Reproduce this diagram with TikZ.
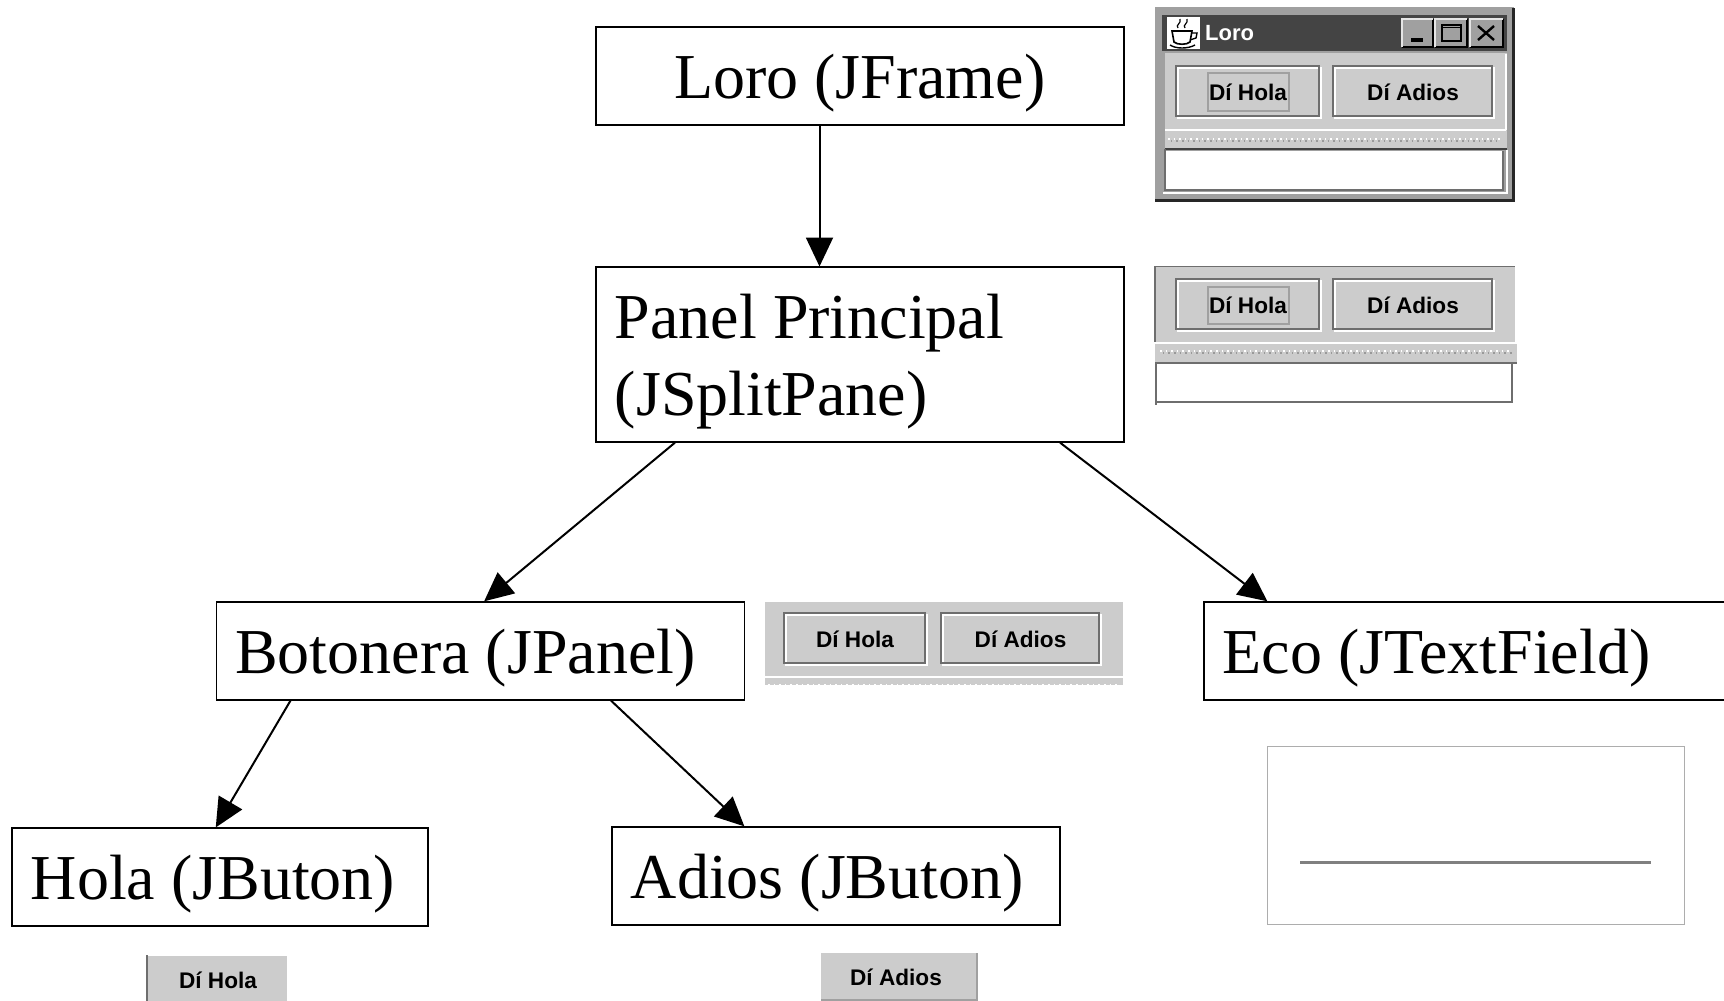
\documentclass[tikz,border=0pt]{standalone}
\usepackage{fontspec}
\setmainfont{Liberation Serif}
\newfontfamily\uifont{Liberation Sans}
\usetikzlibrary{arrows.meta,calc}
\definecolor{panelgray}{HTML}{CCCCCC}
\definecolor{edgegray}{HTML}{6E6E6E}
\definecolor{framegray}{HTML}{A0A0A0}
\definecolor{titledark}{HTML}{444444}
\tikzset{
  classbox/.style={draw=black,line width=1.6pt,fill=white,inner xsep=19pt,inner ysep=0pt,
    font=\fontsize{64}{77}\selectfont,align=flush left,anchor=north west},
  link/.style={draw=black,line width=2pt,-{Triangle[length=29pt,width=27pt]},shorten >=-0.5pt},
  btntext/.style={inner sep=0pt,text=black,font=\uifont\bfseries\fontsize{22.6}{26}\selectfont},
  darkedge/.style={draw=edgegray,line width=1.8pt},
  lightedge/.style={draw=white,line width=1.8pt},
  dots/.style={line width=1.6pt},
}
\newcommand{\jbtn}[6]{%
  \draw[darkedge] (#2,#3) rectangle ++(#4,#5);
  \draw[lightedge] ([shift={(2,2)}]#2,#3) -- ++(#4,0) -- ++(0,#5) -- ++(-#4,0) -- cycle;
  \draw[darkedge] ({#2+#4},#3) -- ++(0,#5) -- ++(-#4,0);
  \node[btntext] (#1) at ({#2+#4/2+0.5},{#3+#5/2+1.5}) {#6};
}
\newcommand{\dotrow}[3]{%
  \draw[dots,draw=white,dash pattern=on 1.6pt off 4pt] (#1,#3) -- (#2,#3);
  \draw[dots,draw=edgegray!70,dash pattern=on 1.6pt off 4pt] ({#1+2.8},{#3+1.8}) -- (#2,{#3+1.8});
}
\newcommand{\lowered}{\rule{0pt}{60pt}}
\begin{document}
\begin{tikzpicture}[x=1pt,y=-1pt]
\clip (0,0) rectangle (1724,1001);
\fill[white] (0,0) rectangle (1724,1001);

% ---------- class boxes
\node[classbox,text width=490pt,minimum height=98pt,align=flush center] (loro) at (595,26) {\lowered Loro (JFrame)};
\node[classbox,text width=490pt,minimum height=175pt] (panel) at (595,266) {\lowered Panel Principal\\(JSplitPane)};
\node[classbox,text width=490pt,minimum height=98pt] (boto) at (215.5,601) {\lowered Botonera (JPanel)};
\node[classbox,text width=500pt,minimum height=98pt] (eco) at (1203,601) {\lowered Eco (JTextField)};
\node[classbox,text width=378pt,minimum height=98pt] (hola) at (11,827) {\lowered Hola (JButon)};
\node[classbox,text width=410pt,minimum height=98pt] (adios) at (611,826) {\lowered Adios (JButon)};

% ---------- connectors
\draw[link] ($(loro.south west)+(224.5,0)$) -- ($(panel.north west)+(224.5,0)$);
\draw[link] ($(panel.south west)+(80,0)$) -- ($(boto.north west)+(269,0)$);
\draw[link] ($(panel.south west)+(465,0)$) -- ($(eco.north west)+(64,0)$);
\draw[link] ($(boto.south west)+(75,0)$) -- ($(hola.north west)+(205,0)$);
\draw[link] ($(boto.south west)+(395.5,0)$) -- ($(adios.north west)+(133,0)$);

% ---------- window screenshot
\fill[framegray] (1155,7) rectangle (1514,202);
\draw[draw=black!85,line width=3pt] (1513,8) -- (1513,200.5) -- (1155,200.5);
\fill[titledark] (1162,15) rectangle (1507,51);
\fill[panelgray] (1165,53) rectangle (1507,148);
\draw[draw=white,line width=1.2pt] (1165,130) -- (1506,130) (1506,54) -- (1506,130);
\fill[white] (1167,17) rectangle (1200,49);
% cup icon
\draw[black,line width=1.6pt] (1172,31) -- (1192,31) -- (1190,42) .. controls (1187,45) and (1177,45) .. (1174,42) -- cycle;
\draw[black,line width=1.4pt] (1192,33) -- (1197,33) -- (1196,38) -- (1190,40);
\draw[black,line width=1.4pt] (1170,45) .. controls (1176,49) and (1188,49) .. (1195,45);
\draw[black,line width=1.2pt] (1178,28) .. controls (1175,25) and (1182,23) .. (1180,19);
\draw[black,line width=1.2pt] (1185,28) .. controls (1182,25) and (1189,23) .. (1187,19);
\node[inner sep=0pt,text=white,anchor=west,font=\uifont\bfseries\fontsize{22}{26}\selectfont] (wintitle) at (1205,33) {Loro};
% title buttons
\fill[framegray] (1402,19) rectangle (1433,47);
\fill[framegray] (1435,19) rectangle (1467,47);
\fill[framegray] (1470,19) rectangle (1503,47);
\draw[draw=black,line width=1.5pt] (1433,19) -- (1433,47) -- (1402,47) (1467,19) -- (1467,47) -- (1435,47) (1503,19) -- (1503,47) -- (1470,47);
\draw[draw=white!80!gray,line width=1.2pt] (1402,47) -- (1402,19) -- (1433,19) (1435,47) -- (1435,19) -- (1467,19) (1470,47) -- (1470,19) -- (1503,19);
\fill[black] (1411,38) rectangle (1423,42);
\draw[black,line width=2.2pt] (1442,25) rectangle (1461,41);
\draw[black,line width=1pt] (1442,27) -- (1461,27);
\draw[black,line width=2.4pt] (1478,26) -- (1494,40) (1494,26) -- (1478,40);
% buttons
\jbtn{wh}{1176}{66}{143}{50}{Dí Hola}
\jbtn{wa}{1333}{66}{159}{50}{Dí Adios}
\draw[draw=framegray,line width=1.5pt] (1208,73) rectangle (1289,111);
% divider and text field
\dotrow{1168}{1500}{139}
\fill[white] (1166,151) rectangle (1503,190);
\draw[draw=black!75,line width=2.2pt] (1165,149) -- (1507,149);
\draw[draw=edgegray,line width=2pt] (1165,190) -- (1503,190) -- (1503,151);
\draw[draw=edgegray,line width=2pt] (1165,149) -- (1165,191);
\draw[draw=white,line width=1.6pt] (1163,193) -- (1507,193) -- (1507,150);

% ---------- split pane screenshot
\fill[panelgray] (1155,266) rectangle (1515,342);
\draw[draw=edgegray,line width=1.6pt] (1155,266.5) -- (1515,266.5) (1155,266) -- (1155,342);
\jbtn{sh}{1176}{279}{143}{50}{Dí Hola}
\jbtn{sa}{1333}{279}{159}{50}{Dí Adios}
\draw[draw=framegray,line width=1.5pt] (1208,287) rectangle (1289,324);
\draw[draw=white,line width=1.8pt] (1155,343) -- (1517,343);
\fill[panelgray] (1155,344) rectangle (1517,362);
\dotrow{1160}{1512}{351}
\draw[draw=edgegray,line width=2.4pt] (1155,363) -- (1517,363);
\draw[draw=edgegray,line width=1.8pt] (1156,363) -- (1156,405) (1156,402) -- (1512,402) -- (1512,364);

% ---------- button panel screenshot
\fill[panelgray] (765,602) rectangle (1123,685);
\jbtn{ph}{784}{613}{141}{50}{Dí Hola}
\jbtn{pa}{941}{613}{158}{50}{Dí Adios}
\draw[draw=white,line width=1.8pt] (765,677) -- (1123,677);
\draw[dots,draw=white,dash pattern=on 1.6pt off 4pt] (768,684.5) -- (1120,684.5);

% ---------- single buttons
\fill[panelgray] (147,956) rectangle (287,1001);
\draw[draw=edgegray,line width=1.6pt] (147,955) -- (147,1001);
\node[btntext] (bh) at (218,980) {Dí Hola};
\fill[panelgray] (821,953) rectangle (977,1000);
\draw[draw=framegray,line width=1.2pt] (821,1000) -- (977,1000) -- (977,953);
\node[btntext] (ba) at (896,977) {Dí Adios};

% ---------- empty text field screenshot
\draw[draw=black!32,line width=1pt] (1267.5,746.5) rectangle (1684,924);
\draw[draw=black!50,line width=3pt] (1300,862) -- (1651,862);
\end{tikzpicture}
\end{document}
